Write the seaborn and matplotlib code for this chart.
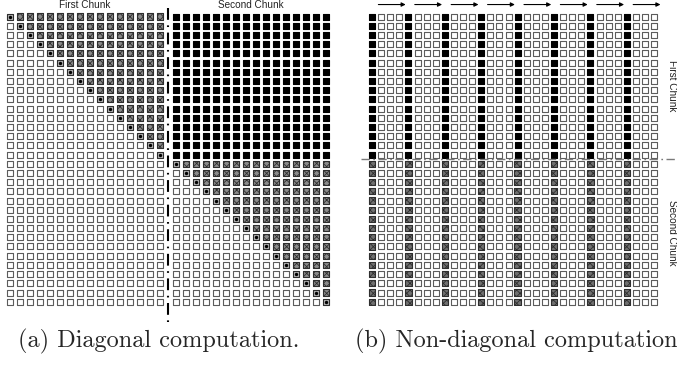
import matplotlib
matplotlib.use("Agg")
import matplotlib.pyplot as plt
import pandas as pd
import seaborn as sns

# ---------------- data ----------------
chunk_titles = ["First Chunk", "Second Chunk"]
captions = ["(a) Diagonal computation.", "(b) Non-diagonal computation"]

# cell codes: '.' empty, 'x' hatched, 'o' hatched diagonal (with dot), '#' black
diag_block = [
    "oxxxxxxxxxxxxxxx",
    ".oxxxxxxxxxxxxxx",
    "..oxxxxxxxxxxxxx",
    "...oxxxxxxxxxxxx",
    "....oxxxxxxxxxxx",
    ".....oxxxxxxxxxx",
    "......oxxxxxxxxx",
    ".......oxxxxxxxx",
    "........oxxxxxxx",
    ".........oxxxxxx",
    "..........oxxxxx",
    "...........oxxxx",
    "............oxxx",
    ".............oxx",
    "..............ox",
    "...............o",
]
black_block_row = "################"
empty_block_row = "................"
cells_a = [b + black_block_row for b in diag_block] + [empty_block_row + b for b in diag_block]

cells_b_first = "#...#...#...#...#...#...#...#..."
cells_b_second = "x...x...x...x...x...x...x...x..."
cells_b = [cells_b_first] * 16 + [cells_b_second] * 16
arrow_groups = [0, 1, 2, 3, 4, 5, 6, 7]

# ---------------- style ----------------
sns.set_theme(style="white")
plt.rcParams["font.family"] = ["Liberation Sans", "DejaVu Sans"]
plt.rcParams["hatch.linewidth"] = 0.6
plt.rcParams["hatch.color"] = "#2a2a2a"
plt.rcParams["lines.scale_dashes"] = False

W, H = 677, 365
fig = plt.figure(figsize=(W / 100, H / 100), dpi=100)
fig.patch.set_facecolor("white")


def add_axes_px(left, top, width, height):
    return fig.add_axes([left / W, 1 - (top + height) / H, width / W, height / H])


def to_frame(cells, gap):
    recs = []
    for r, row in enumerate(cells):
        for c, code in enumerate(row):
            recs.append({"x": c + (gap if c >= 16 else 0), "y": r, "code": code})
    return pd.DataFrame(recs)


styles = {
    ".": dict(color="white", edgecolor="#5c5c5c", linewidth=0.8),
    "x": dict(color="#8a8a8a", edgecolor="#2e2e2e", linewidth=0.8, hatch="xxxxx"),
    "o": dict(color="#b4b4b4", edgecolor="#2e2e2e", linewidth=0.8),
    "#": dict(color="black", edgecolor="black", linewidth=0.8),
}
SQ = 21


def draw_cells(ax, df, dark_hatch=False):
    for code, st in styles.items():
        sub = df[df["code"] == code]
        if sub.empty:
            continue
        st = dict(st)
        if dark_hatch and code == "x":
            st["color"] = "#707070"
        sns.scatterplot(data=sub, x="x", y="y", marker="s", s=SQ, legend=False, ax=ax, **st)
    dots = df[df["code"] == "o"]
    if not dots.empty:
        sns.scatterplot(data=dots, x="x", y="y", marker="o", s=6, color="black",
                        edgecolor="black", linewidth=0, legend=False, ax=ax)


pitch_y = 9.2
top_center = 16.5
row_top = top_center - pitch_y / 2
row_h = 32 * pitch_y

# ---------------- panel (a) ----------------
gap_a = 0.6
pitch_a = 10.0
ax_a = add_axes_px(10 - pitch_a / 2, row_top, (32 + gap_a) * pitch_a, row_h)
df_a = to_frame(cells_a, gap_a)
draw_cells(ax_a, df_a)
ax_a.set_xlim(-0.5, 31.5 + gap_a)
ax_a.set_ylim(31.5, -0.5)
ax_a.set_axis_off()
div_x = 15 + (1 + gap_a) / 2
ax_a.plot([div_x, div_x], [-0.9, 33.2], color="black", lw=1.5,
          linestyle=(0, (8.5, 4.0, 1.2, 4.0)), clip_on=False)
ax_a.text(7.5, -1.3, chunk_titles[0], ha="center", va="center", fontsize=7.2, color="#222222")
ax_a.text(16 + gap_a + 7.5, -1.3, chunk_titles[1], ha="center", va="center", fontsize=7.2,
          color="#222222")

# ---------------- panel (b) ----------------
pitch_b = 9.1
ax_b = add_axes_px(372 - pitch_b / 2, row_top, 32 * pitch_b, row_h)
df_b = to_frame(cells_b, 0)
draw_cells(ax_b, df_b, dark_hatch=True)
ax_b.set_xlim(-0.5, 31.5)
ax_b.set_ylim(31.5, -0.5)
ax_b.set_axis_off()
ax_b.plot([-1.2, 33.6], [15.5, 15.5], color="#7a7a7a", lw=1.0,
          linestyle=(0, (6, 2.5, 1.2, 2.5)), clip_on=False)
for g in arrow_groups:
    ax_b.annotate("", xy=(4 * g + 3.7, -1.3), xytext=(4 * g + 0.7, -1.3),
                  arrowprops=dict(arrowstyle="-|>", color="black", lw=0.8,
                                  mutation_scale=6, shrinkA=0, shrinkB=0),
                  annotation_clip=False)
ax_b.text(33.0, 7.5, chunk_titles[0], rotation=-90, ha="center", va="center",
          fontsize=7.2, color="#222222")
ax_b.text(33.0, 23.5, chunk_titles[1], rotation=-90, ha="center", va="center",
          fontsize=7.2, color="#222222")

# ---------------- captions ----------------
fig.text(159 / W, 1 - 341 / H, captions[0], family="cmr10", fontsize=17.5,
         ha="center", va="center")
fig.text(355 / W, 1 - 341 / H, captions[1], family="cmr10", fontsize=17.5,
         ha="left", va="center")

fig.savefig("out.png", dpi=100, facecolor="white")
